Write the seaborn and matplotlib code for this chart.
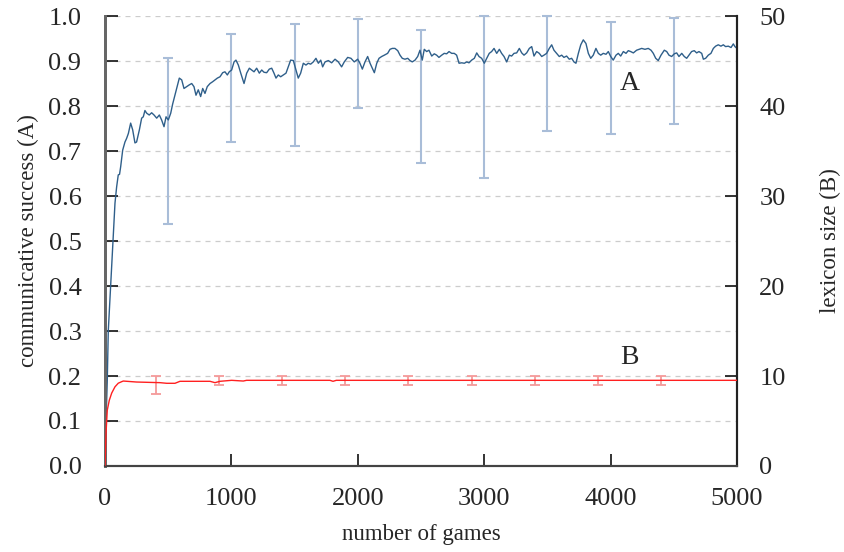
import matplotlib
matplotlib.use("Agg")
import matplotlib.pyplot as plt
import seaborn as sns
import numpy as np

sns.set_theme(style="ticks")
plt.rcParams['font.family'] = ['Liberation Serif', 'DejaVu Serif']

# series A: communicative success
A_games = [0, 18, 26, 40, 53, 66, 79, 92, 105, 115, 124, 140, 158, 171, 185, 203, 219, 237, 250, 272,
           290, 303, 316, 330, 350, 369, 388, 409, 430, 448, 467, 483, 501, 520, 535, 554, 572, 588, 607, 625,
           646, 667, 686, 704, 720, 738, 757, 773, 791, 809, 831, 852, 870, 889, 910, 931, 949, 968, 983, 1002,
           1021, 1036, 1055, 1074, 1100, 1121, 1142, 1160, 1179, 1200, 1221, 1240, 1258, 1279, 1300, 1319, 1337, 1353, 1371, 1390,
           1411, 1432, 1450, 1469, 1490, 1511, 1529, 1548, 1569, 1590, 1608, 1627, 1648, 1669, 1688, 1707, 1722, 1741, 1767, 1793,
           1820, 1846, 1872, 1893, 1920, 1946, 1972, 1999, 2017, 2036, 2057, 2078, 2097, 2115, 2131, 2150, 2168, 2189, 2210, 2236,
           2255, 2273, 2294, 2316, 2334, 2352, 2373, 2395, 2413, 2431, 2453, 2474, 2492, 2510, 2526, 2545, 2563, 2585, 2605, 2624,
           2642, 2664, 2684, 2703, 2722, 2743, 2763, 2782, 2801, 2822, 2843, 2862, 2880, 2901, 2922, 2941, 2959, 2980, 3001, 3020,
           3040, 3059, 3078, 3099, 3120, 3138, 3157, 3178, 3199, 3217, 3236, 3257, 3278, 3297, 3315, 3336, 3357, 3376, 3394, 3415,
           3436, 3455, 3473, 3494, 3515, 3534, 3552, 3573, 3594, 3613, 3631, 3652, 3673, 3692, 3710, 3726, 3745, 3764, 3784, 3805,
           3824, 3843, 3863, 3884, 3903, 3922, 3942, 3964, 3982, 4001, 4021, 4043, 4061, 4080, 4101, 4122, 4140, 4159, 4180, 4206,
           4227, 4246, 4272, 4298, 4320, 4338, 4357, 4377, 4399, 4425, 4444, 4462, 4483, 4504, 4523, 4541, 4563, 4583, 4602, 4620,
           4641, 4662, 4681, 4699, 4721, 4734, 4752, 4773, 4794, 4813, 4831, 4852, 4873, 4892, 4910, 4931, 4953, 4971, 4984, 5000]
A_vals = [0.02, 0.19, 0.30, 0.376, 0.443, 0.517, 0.584, 0.62, 0.647, 0.648, 0.665, 0.702, 0.72, 0.728, 0.739, 0.762, 0.747, 0.718, 0.72, 0.747,
          0.773, 0.776, 0.79, 0.784, 0.78, 0.785, 0.78, 0.773, 0.78, 0.769, 0.754, 0.776, 0.769, 0.784, 0.804, 0.825, 0.845, 0.862, 0.858, 0.839,
          0.843, 0.847, 0.85, 0.843, 0.824, 0.836, 0.821, 0.839, 0.828, 0.843, 0.85, 0.854, 0.858, 0.862, 0.865, 0.874, 0.876, 0.869, 0.876, 0.88,
          0.898, 0.902, 0.891, 0.873, 0.85, 0.873, 0.884, 0.88, 0.876, 0.884, 0.873, 0.88, 0.875, 0.874, 0.882, 0.884, 0.873, 0.862, 0.869, 0.865,
          0.869, 0.873, 0.887, 0.902, 0.901, 0.88, 0.862, 0.873, 0.895, 0.891, 0.895, 0.893, 0.898, 0.906, 0.895, 0.902, 0.887, 0.898, 0.901, 0.896,
          0.904, 0.898, 0.887, 0.898, 0.908, 0.906, 0.898, 0.904, 0.895, 0.882, 0.898, 0.91, 0.895, 0.884, 0.874, 0.895, 0.906, 0.91, 0.913, 0.917,
          0.926, 0.928, 0.928, 0.923, 0.913, 0.906, 0.904, 0.906, 0.901, 0.898, 0.902, 0.91, 0.924, 0.902, 0.926, 0.921, 0.924, 0.911, 0.916, 0.913,
          0.908, 0.913, 0.917, 0.916, 0.921, 0.917, 0.917, 0.913, 0.895, 0.896, 0.895, 0.898, 0.896, 0.902, 0.906, 0.918, 0.91, 0.906, 0.895, 0.906,
          0.917, 0.921, 0.928, 0.917, 0.926, 0.917, 0.91, 0.898, 0.913, 0.911, 0.917, 0.918, 0.928, 0.918, 0.913, 0.918, 0.928, 0.932, 0.911, 0.921,
          0.917, 0.91, 0.913, 0.917, 0.928, 0.936, 0.924, 0.917, 0.91, 0.913, 0.908, 0.911, 0.904, 0.906, 0.898, 0.895, 0.917, 0.936, 0.947, 0.939,
          0.917, 0.906, 0.913, 0.928, 0.917, 0.913, 0.917, 0.915, 0.921, 0.91, 0.902, 0.913, 0.917, 0.911, 0.921, 0.917, 0.923, 0.921, 0.918, 0.924,
          0.926, 0.928, 0.926, 0.928, 0.924, 0.917, 0.906, 0.901, 0.913, 0.924, 0.921, 0.913, 0.91, 0.916, 0.918, 0.91, 0.917, 0.91, 0.906, 0.913,
          0.921, 0.923, 0.918, 0.921, 0.917, 0.904, 0.906, 0.913, 0.917, 0.928, 0.933, 0.936, 0.933, 0.936, 0.932, 0.933, 0.93, 0.938, 0.932, 0.928]

# error bars on A
A_err_games = [500, 1000, 1500, 2000, 2500, 3000, 3500, 4000, 4500]
A_err_low = [0.537, 0.719, 0.712, 0.795, 0.673, 0.641, 0.745, 0.738, 0.76]
A_err_high = [0.906, 0.959, 0.983, 0.993, 0.969, 1.0, 1.0, 0.987, 0.996]

# series B: lexicon size (right axis)
B_games = [0, 8, 18, 34, 53, 79, 105, 132, 145, 250, 435, 488, 554, 593, 831, 870, 910, 1002, 1094, 1120, 1780, 1804, 1830, 5000]
B_vals = [0, 3.6, 6.2, 7.3, 8.1, 8.8, 9.2, 9.37, 9.44, 9.33, 9.26, 9.19, 9.19, 9.41, 9.41, 9.26, 9.41, 9.52, 9.44, 9.52, 9.52, 9.41, 9.52, 9.52]

B_err_games = [400, 900, 1400, 1900, 2400, 2900, 3400, 3900, 4400]
B_err_low = [8.0, 9.0, 9.0, 9.0, 9.0, 9.0, 9.0, 9.0, 9.0]
B_err_high = [10.0, 10.0, 10.0, 10.0, 10.0, 10.0, 10.0, 10.0, 10.0]

A_color = '#2f5f8a'
A_err_color = '#a9bdd8'
B_color = '#ff2020'
B_err_color = '#f59a9a'

fig = plt.figure(figsize=(8.44, 5.52), dpi=100)
ax = fig.add_axes([0.1244, 0.1558, 0.7488, 0.8152])
ax2 = ax.twinx()

# grid
ax.set_axisbelow(True)
ax.yaxis.grid(True, color='#cccccc', linestyle=(0, (4, 4)), linewidth=0.9)
ax.xaxis.grid(False)

# error bars A (behind the line)
a_lo = np.array(A_err_low)
a_hi = np.array(A_err_high)
a_mid = (a_lo + a_hi) / 2
ax.errorbar(A_err_games, a_mid, yerr=[a_mid - a_lo, a_hi - a_mid], fmt='none',
            ecolor=A_err_color, elinewidth=1.5, capsize=3.6, capthick=1.5, zorder=2, clip_on=False)
sns.lineplot(x=A_games, y=A_vals, ax=ax, color=A_color, linewidth=1.0, zorder=3)

b_lo = np.array(B_err_low)
b_hi = np.array(B_err_high)
b_mid = (b_lo + b_hi) / 2
ax2.errorbar(B_err_games, b_mid, yerr=[b_mid - b_lo, b_hi - b_mid], fmt='none',
             ecolor=B_err_color, elinewidth=1.3, capsize=3.6, capthick=1.3, zorder=2)
sns.lineplot(x=B_games, y=B_vals, ax=ax2, color=B_color, linewidth=1.0, zorder=3)

ax.set_xlim(0, 5000)
ax.set_ylim(0, 1.0)
ax2.set_ylim(0, 50)
ax.set_xticks(range(0, 5001, 1000))
ax.set_yticks(np.arange(0, 1.01, 0.1))
ax.set_yticklabels([f"{v:.1f}" for v in np.arange(0, 1.01, 0.1)])
ax2.set_yticks(range(0, 51, 10))

for a in (ax, ax2):
    a.spines['top'].set_visible(False)
    a.spines['left'].set_color('#666666')
    a.spines['left'].set_linewidth(2.0)
    a.spines['bottom'].set_color('#444444')
    a.spines['bottom'].set_linewidth(1.5)
    a.spines['right'].set_color('#222222')
    a.spines['right'].set_linewidth(1.5)
    a.tick_params(direction='in', length=9, width=1.2, color='#111111', labelsize=19)
ax.tick_params(axis='y', pad=17)
ax.tick_params(axis='x', pad=16)
ax2.tick_params(axis='y', pad=16)

ax.set_xlabel('number of games', fontsize=16.5)
ax.set_ylabel('communicative success (A)', fontsize=16.5)
ax2.set_ylabel('lexicon size (B)', fontsize=16.5)
ax.xaxis.set_label_coords(0.5, -0.13)
ax.yaxis.set_label_coords(-0.105, 0.5)
ax2.yaxis.set_label_coords(1.131, 0.5)

ax.text(4153, 0.849, 'A', fontsize=20, ha='center', va='center')
ax.text(4153, 0.242, 'B', fontsize=20, ha='center', va='center')

fig.savefig('out.png', dpi=100)
